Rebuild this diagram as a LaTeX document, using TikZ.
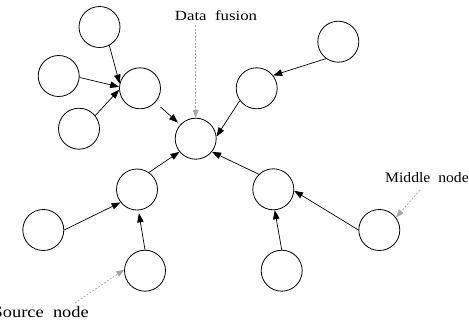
\documentclass[tikz,border=0pt]{standalone}
\usepackage{fontspec}
\usepackage{graphicx}
\setmainfont{Liberation Serif}
\usetikzlibrary{arrows.meta}

\tikzset{
  unit/.style={circle, draw=black, line width=0.8pt, minimum size=41pt, inner sep=0pt},
  link/.style={draw=black, line width=0.7pt, -{Triangle[length=9pt,width=6.5pt]}},
  pointer/.style={draw=black!35, line width=0.7pt, dash pattern=on 2pt off 1.5pt,
    -{Triangle[length=8pt,width=6pt]}},
  caption/.style={inner sep=0pt}
}

\begin{document}
\begin{tikzpicture}[x=1pt, y=-1pt]
  \useasboundingbox (0,0) rectangle (469,322);

  % nodes of the fusion tree
  \node[unit] (n1)  at (99.5,27)   {};
  \node[unit] (n2)  at (58.7,76)   {};
  \node[unit] (n3)  at (79,128.7)  {};
  \node[unit] (n4)  at (140,88.3)  {};
  \node[unit] (n5)  at (195.7,138.7) {};
  \node[unit] (n6)  at (338.3,41.7) {};
  \node[unit] (n7)  at (256.7,88.3) {};
  \node[unit] (n8)  at (137,189.5) {};
  \node[unit] (n9)  at (43.3,230)  {};
  \node[unit] (n10) at (145,270.7) {};
  \node[unit] (n11) at (273.3,189.3) {};
  \node[unit] (n12) at (379.3,230) {};
  \node[unit] (n13) at (281.7,270.7) {};

  % data flow
  \draw[link] (n1.298) -- (n4.167);
  \draw[link] (n2.356) -- (n4.176);
  \draw[link] (n3.39)  -- (n4.184);
  \draw[link, shorten <=7pt, shorten >=3pt] (n4) -- (n5);
  \draw[link] (n6.234) -- (n7.38);
  \draw[link] (n7.216) -- (n5.6);
  \draw[link] (n8.55)  -- (n5.219);
  \draw[link] (n11.134) -- (n5.321);
  \draw[link] (n9.0)   -- (n8.218);
  \draw[link, shorten >=3pt] (n10.90) -- (n8.274);
  \draw[link] (n13.90) -- (n11.274);
  \draw[link] (n12.180) -- (n11.356);

  % labels
  \node[caption, anchor=base, font=\fontsize{14pt}{16pt}\selectfont] (lf) at (216,20)
    {\scalebox{1.2}[1]{Data\ \ fusion}};
  \node[caption, anchor=base west, font=\fontsize{14.5pt}{16pt}\selectfont] (lm) at (385,182)
    {\scalebox{1.08}[1]{Middle\ \ node}};
  \node[caption, anchor=base east, font=\fontsize{16pt}{18pt}\selectfont] (ls) at (89,317)
    {\scalebox{1.15}[1]{Source\ \ node}};

  \coordinate (pf) at (195.7,25);
  \coordinate (pm) at (420,190);
  \coordinate (ps) at (75,303);
  \draw[pointer] (pf) -- (n5.north);
  \draw[pointer] (pm) -- (n12.37);
  \draw[pointer] (ps) -- (n10.177);
\end{tikzpicture}
\end{document}
